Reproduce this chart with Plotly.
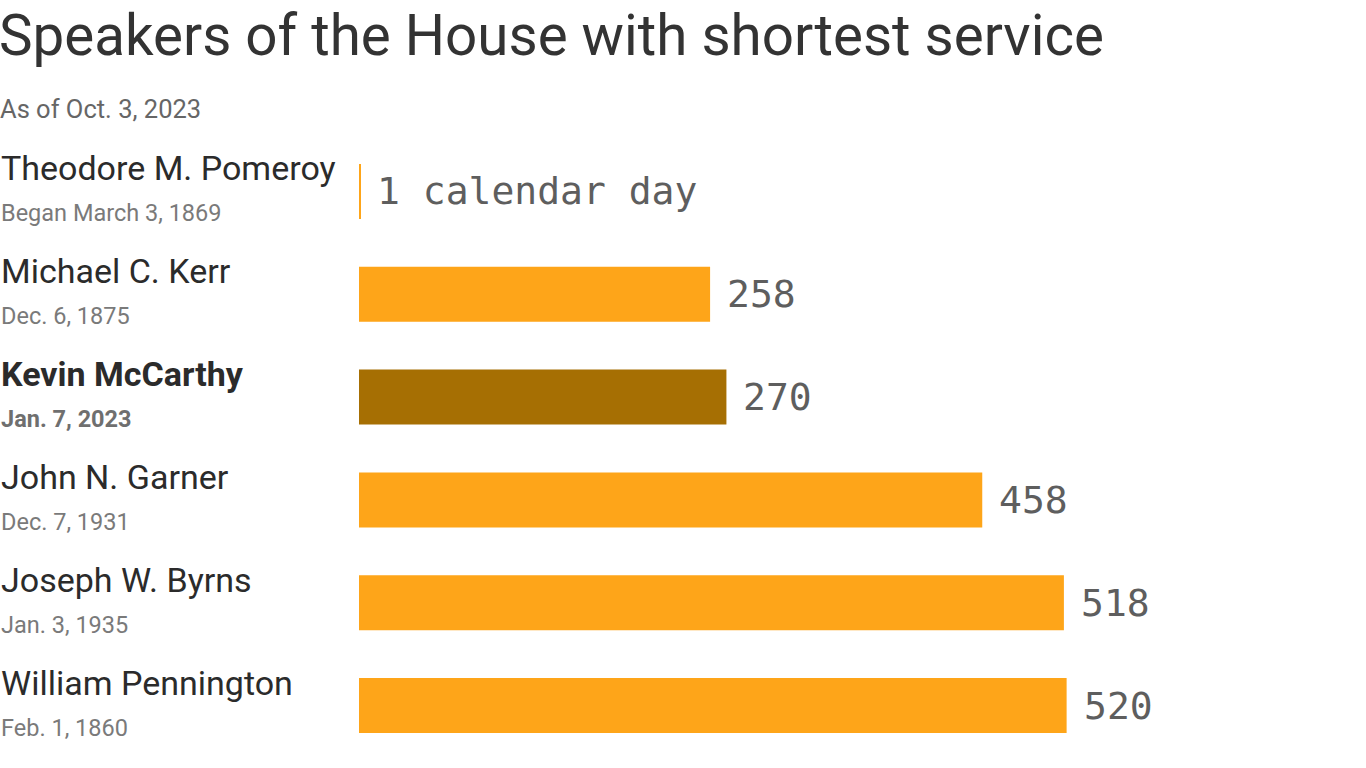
import plotly.graph_objects as go

# speakers with the shortest time in office (days)
names = ["Theodore M. Pomeroy", "Michael C. Kerr", "Kevin McCarthy",
         "John N. Garner", "Joseph W. Byrns", "William Pennington"]
began = ["Began March 3, 1869", "Dec. 6, 1875", "Jan. 7, 2023",
         "Dec. 7, 1931", "Jan. 3, 1935", "Feb. 1, 1860"]
days = [1, 258, 270, 458, 518, 520]
value_labels = ["1 calendar day", "258", "270", "458", "518", "520"]
highlight = "Kevin McCarthy"

orange = "#FEA519"
dark = "#A66F03"
colors = [dark if n == highlight else orange for n in names]

fig = go.Figure(go.Bar(
    x=days, y=names, orientation="h",
    marker=dict(color=colors, line=dict(width=0)),
    width=0.535, hoverinfo="skip",
))

ann = []
for n, d, lab, b in zip(names, days, value_labels, began):
    bold = n == highlight
    ann.append(dict(x=d, y=n, xref="x", yref="y", text=lab, showarrow=False,
                    xanchor="left", yanchor="middle", xshift=15,
                    font=dict(family="DejaVu Sans Mono", size=38, color="#5e5e5e")))
    ann.append(dict(x=0, y=n, xref="paper", yref="y", xshift=-360, yshift=23,
                    text=f"<b>{n}</b>" if bold else n, showarrow=False,
                    xanchor="left", yanchor="middle",
                    font=dict(family="Roboto", size=34, color="#2b2b2b")))
    ann.append(dict(x=0, y=n, xref="paper", yref="y", xshift=-360, yshift=-22,
                    text=f"<b>{b}</b>" if bold else b, showarrow=False,
                    xanchor="left", yanchor="middle",
                    font=dict(family="Roboto", size=23.5,
                              color="#6f6f6f" if bold else "#7a7a7a")))

ann.append(dict(x=0, y=1, xref="paper", yref="paper", xshift=-362, yshift=139,
                text="Speakers of the House with shortest service", showarrow=False,
                xanchor="left", yanchor="top",
                font=dict(family="Roboto", size=56.5, color="#333333")))
ann.append(dict(x=0, y=1, xref="paper", yref="paper", xshift=-361, yshift=48,
                text="As of Oct. 3, 2023", showarrow=False,
                xanchor="left", yanchor="top",
                font=dict(family="Roboto", size=25.5, color="#666666")))

fig.update_layout(
    width=1366, height=768,
    margin=dict(l=359, r=0, t=140, b=11),
    paper_bgcolor="white", plot_bgcolor="white",
    showlegend=False,
    annotations=ann,
    xaxis=dict(range=[0, 740], visible=False, fixedrange=True),
    yaxis=dict(autorange="reversed", visible=False, fixedrange=True),
)

# drop the browser's default 8px body margin so the chart sits at the page corner
fig.write_html("out.html", config={"displayModeBar": False},
               post_script="document.body.style.margin='0';document.body.style.overflow='hidden';")
